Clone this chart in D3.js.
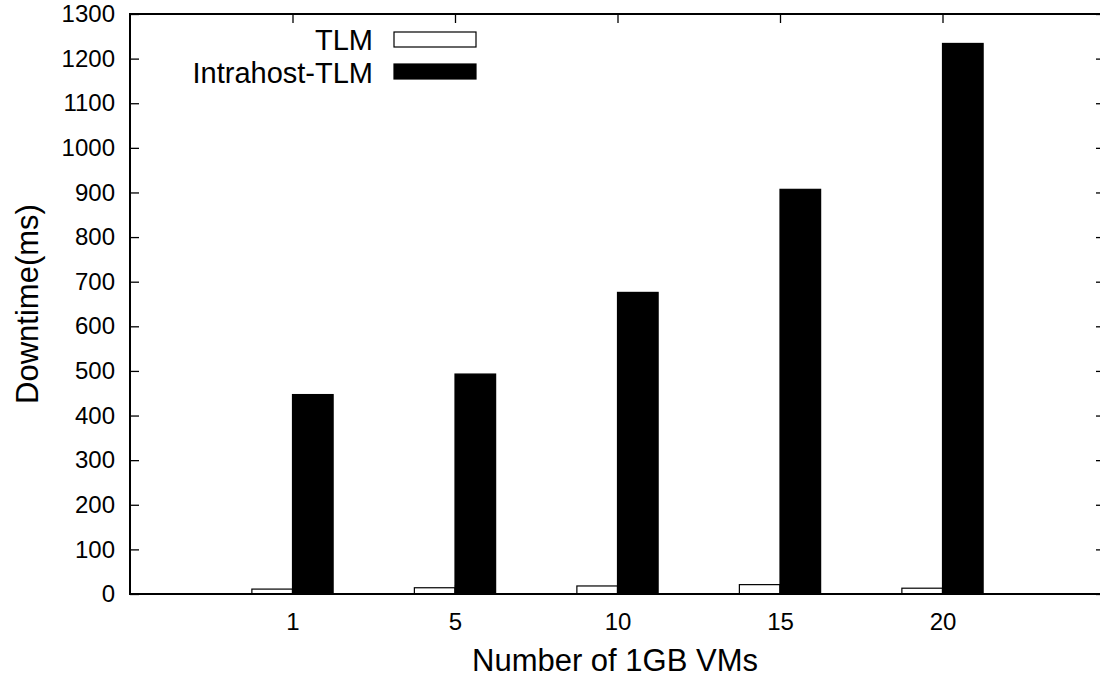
<!DOCTYPE html>
<html>
<head>
<meta charset="utf-8">
<script src="https://cdn.jsdelivr.net/npm/d3@7"></script>
<style>
  html, body { margin: 0; padding: 0; background: #fff; }
  svg { display: block; }
  text { font-family: "Liberation Sans", Arial, Helvetica, sans-serif; fill: #000; }
</style>
</head>
<body>
<svg id="chart" width="1100" height="677"></svg>
<script>
// Downtime per migration scheme, by number of 1GB VMs
const categories = ["1", "5", "10", "15", "20"];
const tlm = [11, 14, 18, 21, 13];
const intrahostTlm = [447, 493, 676, 907, 1234];
const seriesNames = ["TLM", "Intrahost-TLM"];
const yTicks = [0, 100, 200, 300, 400, 500, 600, 700, 800, 900, 1000, 1100, 1200, 1300];

const svg = d3.select("#chart");
const plot = { left: 130, right: 1105, top: 14, bottom: 594 };

// category index on a linear axis, -1 .. 5
const x = d3.scaleLinear().domain([-1, 5]).range([plot.left, plot.right]);
const y = d3.scaleLinear().domain([0, 1300]).range([plot.bottom, plot.top]);
const barW = x(0.25) - x(0);

const g = svg.append("g");

// bars
const series = [
  { name: seriesNames[0], values: tlm, fill: "#fff", offset: -1 },
  { name: seriesNames[1], values: intrahostTlm, fill: "#000", offset: 0 }
];
series.forEach(s => {
  g.selectAll(null).data(s.values).enter().append("rect")
    .attr("x", (d, i) => x(i) + s.offset * barW)
    .attr("y", d => y(d))
    .attr("width", barW)
    .attr("height", d => y(0) - y(d))
    .attr("fill", s.fill)
    .attr("stroke", "#000")
    .attr("stroke-width", 1.2);
});

// axes with inward ticks, mirrored on all sides
const tickLen = 9;
const yAxisL = d3.axisLeft(y).tickValues(yTicks).tickSize(-tickLen)
  .tickFormat(d3.format("d")).tickPadding(tickLen + 6);
const yAxisR = d3.axisRight(y).tickValues(yTicks).tickSize(-tickLen).tickFormat("");
const idx = categories.map((c, i) => i);
const xAxisB = d3.axisBottom(x).tickValues(idx).tickSize(-tickLen)
  .tickFormat(i => categories[i]).tickPadding(tickLen + 10);
const xAxisT = d3.axisTop(x).tickValues(idx).tickSize(-tickLen).tickFormat("");

const styleAxis = sel => {
  sel.select(".domain").remove();
  sel.selectAll(".tick line").attr("stroke", "#000").attr("stroke-width", 1.3);
  sel.selectAll(".tick text").attr("font-size", 24).attr("fill", "#000")
    .style("font-family", '"Liberation Sans", Arial, sans-serif');
};
svg.append("g").attr("transform", `translate(${plot.left},0)`).call(yAxisL).call(styleAxis);
svg.append("g").attr("transform", `translate(${plot.right},0)`).call(yAxisR).call(styleAxis);
svg.append("g").attr("transform", `translate(0,${plot.bottom})`).call(xAxisB).call(styleAxis);
svg.append("g").attr("transform", `translate(0,${plot.top})`).call(xAxisT).call(styleAxis);

// frame
svg.append("rect")
  .attr("x", plot.left).attr("y", plot.top)
  .attr("width", plot.right - plot.left).attr("height", plot.bottom - plot.top)
  .attr("fill", "none").attr("stroke", "#000").attr("stroke-width", 2);

// axis titles
svg.append("text")
  .attr("x", 615).attr("y", 671)
  .attr("text-anchor", "middle").attr("font-size", 31)
  .text("Number of 1GB VMs");
svg.append("text")
  .attr("transform", "translate(38,304) rotate(-90)")
  .attr("text-anchor", "middle").attr("font-size", 31)
  .text("Downtime(ms)");

// legend
const legend = svg.append("g");
const legendRows = [
  { name: seriesNames[0], fill: "#fff", boxY: 32, baseY: 50 },
  { name: seriesNames[1], fill: "#000", boxY: 64, baseY: 83 }
];
legendRows.forEach(r => {
  legend.append("text")
    .attr("x", 373).attr("y", r.baseY)
    .attr("text-anchor", "end").attr("font-size", 29)
    .text(r.name);
  legend.append("rect")
    .attr("x", 394).attr("y", r.boxY)
    .attr("width", 82).attr("height", 15)
    .attr("fill", r.fill).attr("stroke", "#000").attr("stroke-width", 1.2);
});
</script>
</body>
</html>
